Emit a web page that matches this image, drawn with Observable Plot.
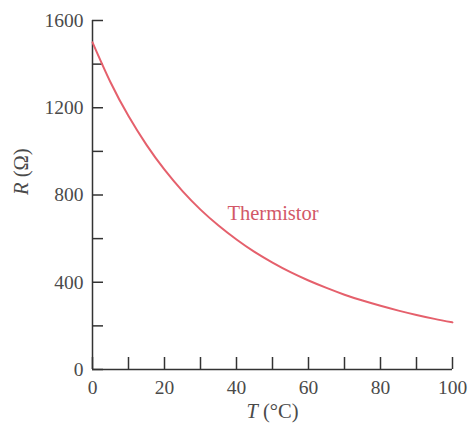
<!DOCTYPE html>
<html><head><meta charset="utf-8">
<script src="https://cdn.jsdelivr.net/npm/d3@7"></script>
<script src="https://cdn.jsdelivr.net/npm/@observablehq/plot@0.6"></script>
<style>html,body{margin:0;padding:0;background:#fff}svg{display:block}</style>
</head><body><div id="chart"></div>
<script>
// Temperature (°C) and thermistor resistance (Ω)
const temperatures = [0, 5, 10, 15, 20, 25, 30, 35, 40, 45, 50, 55, 60, 65, 70, 75, 80, 85, 90, 95, 100];
const resistances  = [1500, 1317, 1162, 1030, 916, 818, 733, 660, 596, 539, 490, 446, 408, 374, 343, 316, 292, 270, 250, 232, 216];

const xTicks = [0, 10, 20, 30, 40, 50, 60, 70, 80, 90, 100];
const xTickLabels = [0, 20, 40, 60, 80, 100];
const yTicks = [0, 200, 400, 600, 800, 1000, 1200, 1400, 1600];
const yTickLabels = [0, 400, 800, 1200, 1600];

const seriesName = ["Thermistor"];
const seriesLabelT = [37.5];
const seriesLabelR = [715];

const xTitle = "T (°C)";
const yTitle = "R (Ω)";

const data = temperatures.map((t, i) => ({T: t, R: resistances[i]}));
const labelData = seriesName.map((s, i) => ({name: s, T: seriesLabelT[i], R: seriesLabelR[i]}));

const axisColor = "#333";
const textColor = "#4a4a4a";
const lineColor = "#e5606c";

const chart = Plot.plot({
  width: 468,
  height: 432,
  marginLeft: 92,
  marginRight: 16,
  marginTop: 20,
  marginBottom: 63,
  style: {fontFamily: "'Liberation Serif', serif", fontSize: "19.5px", background: "#fff", color: textColor},
  x: {domain: [0, 100]},
  y: {domain: [0, 1600]},
  marks: [
    Plot.ruleX([0], {stroke: axisColor, strokeWidth: 1.5}),
    Plot.ruleY([0], {stroke: axisColor, strokeWidth: 1.5}),
    Plot.axisY(yTicks, {anchor: "left", tickSize: 11, dx: 11, tickFormat: () => "", label: null, stroke: axisColor, strokeWidth: 1.5}),
    Plot.axisX(xTicks, {anchor: "bottom", tickSize: 12, dy: -12, tickFormat: () => "", label: null, stroke: axisColor, strokeWidth: 1.5}),
    Plot.axisY(yTickLabels, {anchor: "left", tickSize: 0, tickPadding: 9, tickFormat: d => String(d), label: null, color: textColor, fontSize: 19.5}),
    Plot.axisX(xTickLabels, {anchor: "bottom", tickSize: 0, tickPadding: 11, tickFormat: d => String(d), label: null, color: textColor, fontSize: 19.5}),
    Plot.line(data, {x: "T", y: "R", stroke: lineColor, strokeWidth: 2, curve: "natural"}),
    Plot.text(labelData, {x: "T", y: "R", text: "name", textAnchor: "start", fill: "#d25868", fontSize: 20.5}),
    Plot.text([yTitle], {frameAnchor: "left", dx: -71, rotate: -90, fill: textColor, fontSize: 20.5}),
    Plot.text([xTitle], {frameAnchor: "bottom", dy: 48, fill: textColor, fontSize: 20.5})
  ]
});

// italicise the variable letters in the axis titles
d3.select(chart).selectAll("text").each(function () {
  const el = d3.select(this);
  const t = this.textContent;
  if (t === yTitle || t === xTitle) {
    const letter = t.charAt(0);
    const rest = t.slice(1);
    el.text(null);
    el.append("tspan").attr("font-style", "italic").text(letter);
    el.append("tspan").text(rest);
  }
});

document.getElementById("chart").appendChild(chart);
</script>
</body></html>
